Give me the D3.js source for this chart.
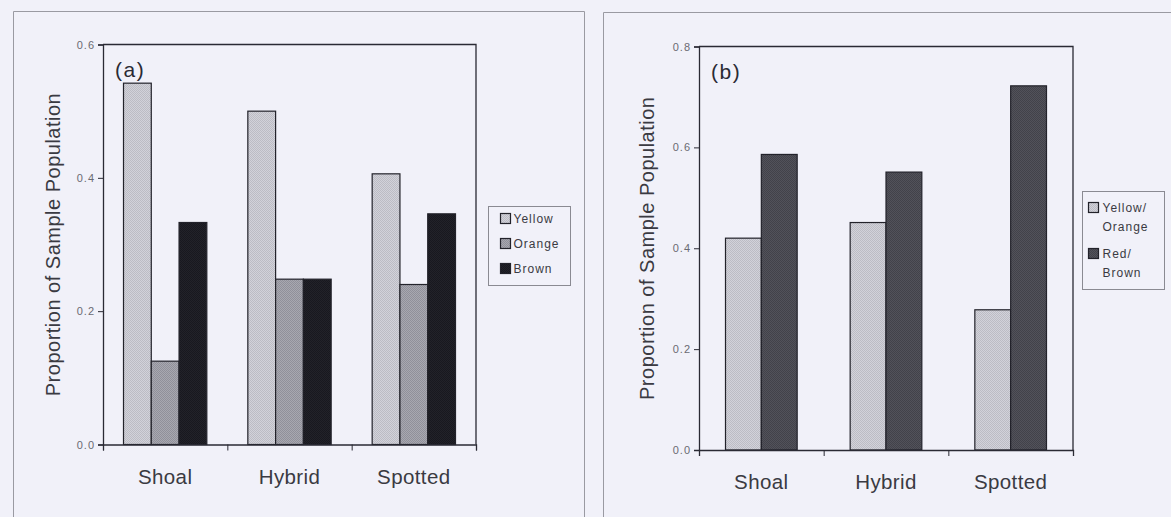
<!DOCTYPE html>
<html>
<head>
<meta charset="utf-8">
<script src="https://cdn.jsdelivr.net/npm/d3@7"></script>
<style>
  body { margin: 0; background: #f1f1f9; }
  svg { display: block; font-family: "Liberation Sans", Arial, sans-serif; }
</style>
</head>
<body>
<div id="chart"></div>
<script>
// data
var categories = ["Shoal", "Hybrid", "Spotted"];

var seriesA = ["Yellow", "Orange", "Brown"];
var valuesA = {
  Yellow: [0.542, 0.500, 0.406],
  Orange: [0.125, 0.248, 0.240],
  Brown:  [0.333, 0.248, 0.346]
};
var ticksA = [0.0, 0.2, 0.4, 0.6];

var seriesB = ["Yellow/Orange", "Red/Brown"];
var legendB = [["Yellow/", "Orange"], ["Red/", "Brown"]];
var valuesB = {
  "Yellow/Orange": [0.420, 0.451, 0.278],
  "Red/Brown":     [0.586, 0.551, 0.722]
};
var ticksB = [0.0, 0.2, 0.4, 0.6, 0.8];

var W = 1171, H = 517;

var svg = d3.select("#chart")
  .append("svg")
    .attr("width", W)
    .attr("height", H);

// stippled fills, two close greys in a 2px checker
var defs = svg.append("defs");
function stipple(id, c1, c2) {
  var p = defs.append("pattern")
    .attr("id", id)
    .attr("patternUnits", "userSpaceOnUse")
    .attr("width", 2).attr("height", 2);
  p.append("rect").attr("width", 2).attr("height", 2).attr("fill", c1);
  p.append("rect").attr("width", 1).attr("height", 1).attr("fill", c2);
  p.append("rect").attr("x", 1).attr("y", 1).attr("width", 1).attr("height", 1).attr("fill", c2);
  return "url(#" + id + ")";
}
var fillLight = stipple("pLight", "#d2d2da", "#bcbcc4");
var fillMid = stipple("pMid", "#a8a8b0", "#90909a");
var fillDark = stipple("pDark", "#222229", "#18181f");
var fillDarkB = stipple("pDarkB", "#52525a", "#42424a");

// outer frames of the two panels
svg.append("path")
  .attr("d", "M13.5,517 V11.5 H584.5 V517")
  .attr("fill", "none").attr("stroke", "#9a9aa2").attr("stroke-width", 1);
svg.append("path")
  .attr("d", "M603.5,517 V12.5 H1171")
  .attr("fill", "none").attr("stroke", "#9a9aa2").attr("stroke-width", 1);

function drawPanel(opt) {
  var g = svg.append("g");

  var x = d3.scaleBand()
    .domain(categories)
    .range([opt.left, opt.right]);

  var x1 = d3.scaleBand()
    .domain(opt.series)
    .range([opt.groupPad, x.bandwidth() - opt.groupPad]);

  var y = d3.scaleLinear()
    .domain([0, opt.max])
    .range([opt.bottom, opt.top]);

  // frame of the plot area (top + right)
  g.append("path")
    .attr("d", "M" + opt.left + "," + opt.top + " H" + opt.right + " V" + opt.bottom)
    .attr("fill", "none").attr("stroke", "#2a2a34").attr("stroke-width", 1.3);

  // bars
  opt.series.forEach(function(s) {
    g.append("g")
      .selectAll("rect")
      .data(opt.values[s])
      .enter().append("rect")
        .attr("x", function(d, i) { return x(categories[i]) + x1(s); })
        .attr("y", function(d) { return y(d); })
        .attr("width", x1.bandwidth())
        .attr("height", function(d) { return y(0) - y(d); })
        .attr("fill", opt.colors[s])
        .attr("stroke", "#22222a")
        .attr("stroke-width", 1.2);
  });

  // Y axis
  var yAxis = g.append("g")
    .attr("transform", "translate(" + opt.left + ",0)")
    .call(d3.axisLeft(y).tickValues(opt.ticks).tickFormat(d3.format(".1f")).tickSize(5).tickPadding(3));
  yAxis.select(".domain").attr("stroke", "#2a2a34").attr("stroke-width", 1.3);
  yAxis.selectAll(".tick line").attr("stroke", "#2a2a34");
  yAxis.selectAll("text").attr("fill", "#6a6a72").style("font-size", "11px")
    .style("letter-spacing", "1px")
    .style("font-family", "\"Liberation Sans\", Arial, sans-serif");

  // X axis: ticks at band edges, labels at band centres
  var xb = d3.scaleLinear().domain([0, categories.length]).range([opt.left, opt.right]);
  var xAxis = g.append("g")
    .attr("transform", "translate(0," + opt.bottom + ")")
    .call(d3.axisBottom(xb).ticks(categories.length).tickFormat("").tickSize(6));
  xAxis.select(".domain").attr("stroke", "#2a2a34").attr("stroke-width", 1.3);
  xAxis.selectAll(".tick line").attr("stroke", "#2a2a34");

  g.append("g")
    .selectAll("text")
    .data(categories)
    .enter().append("text")
      .attr("x", function(d) { return x(d) + x.bandwidth() / 2; })
      .attr("y", opt.bottom + 39)
      .attr("text-anchor", "middle")
      .attr("fill", "#3a3a42")
      .style("font-size", "20.5px")
      .style("letter-spacing", "0.4px")
      .text(function(d) { return d; });

  // Y title
  g.append("text")
    .attr("transform", "translate(" + opt.titleX + "," + ((opt.top + opt.bottom) / 2) + ") rotate(-90)")
    .attr("text-anchor", "middle")
    .attr("fill", "#3a3a42")
    .style("font-size", "20px")
    .style("letter-spacing", "0.5px")
    .text("Proportion of Sample Population");

  // panel letter
  g.append("text")
    .attr("x", opt.left + 12)
    .attr("y", opt.top + 32)
    .attr("fill", "#2a2a34")
    .style("font-size", "21px")
    .style("letter-spacing", "1.5px")
    .text(opt.letter);

  // legend
  var lg = g.append("g");
  lg.append("rect")
    .attr("x", opt.legend.x).attr("y", opt.legend.y)
    .attr("width", opt.legend.w).attr("height", opt.legend.h)
    .attr("fill", "none").attr("stroke", "#8a8a92");
  opt.series.forEach(function(s, i) {
    var ly = opt.legend.y + opt.legend.first + i * opt.legend.step;
    lg.append("rect")
      .attr("x", opt.legend.x + opt.legend.sw).attr("y", ly - 5)
      .attr("width", 10).attr("height", 10)
      .attr("fill", opt.colors[s]).attr("stroke", "#22222a").attr("stroke-width", 1.2);
    var lines = opt.legendText[i];
    lines.forEach(function(t, j) {
      lg.append("text")
        .attr("x", opt.legend.x + opt.legend.tx)
        .attr("y", ly + 4.5 + j * 19)
        .attr("fill", "#3a3a42")
        .style("font-size", "12px")
        .style("letter-spacing", "1px")
        .text(t);
    });
  });
}

drawPanel({
  left: 103, right: 476, top: 44.5, bottom: 444.5,
  max: 0.6, ticks: ticksA, series: seriesA, values: valuesA,
  groupPad: 20.5, titleX: 60, letter: "(a)",
  colors: { Yellow: fillLight, Orange: fillMid, Brown: fillDark },
  legend: { x: 488.5, y: 206.5, w: 82, h: 79, first: 12, step: 25, sw: 12, tx: 25 },
  legendText: [["Yellow"], ["Orange"], ["Brown"]]
});

drawPanel({
  left: 699, right: 1073, top: 46.5, bottom: 450,
  max: 0.8, ticks: ticksB, series: seriesB, values: valuesB,
  groupPad: 26.5, titleX: 654, letter: "(b)",
  colors: { "Yellow/Orange": fillLight, "Red/Brown": fillDarkB },
  legend: { x: 1082.5, y: 191.5, w: 82, h: 98, first: 16, step: 46, sw: 6, tx: 20 },
  legendText: legendB
});
</script>
</body>
</html>
